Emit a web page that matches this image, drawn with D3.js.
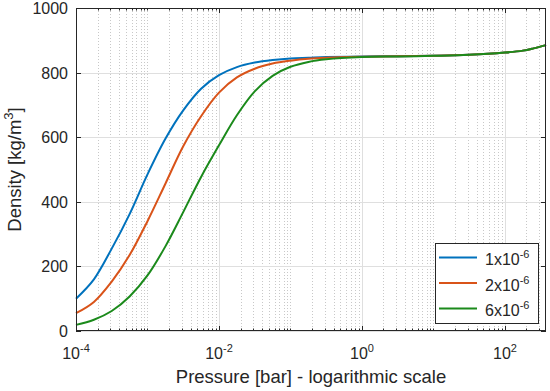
<!DOCTYPE html>
<html>
<head>
<meta charset="utf-8">
<script src="https://cdn.jsdelivr.net/npm/d3@7"></script>
<style>
  body { margin: 0; background: #fff; }
  text { font-family: "Liberation Sans", Arial, sans-serif; fill: #262626; }
</style>
</head>
<body>
<svg width="550" height="391"></svg>
<script>
// pressure samples (bar) and densities
const pressure = [1e-4, 1.78e-4, 3.16e-4, 5.62e-4, 1e-3, 1.78e-3, 3.16e-3, 5.62e-3,
    1e-2, 1.78e-2, 3.16e-2, 5.62e-2, 0.1, 0.178, 0.316, 1, 3.16, 10, 31.6, 100, 178, 251, 375];
const dens1 = [100, 160, 255, 362, 485, 595, 683, 750, 792, 817, 831, 839, 844, 846, 848,
    850, 851, 852, 855, 862, 868, 875, 885];
const dens2 = [55, 90, 153, 235, 340, 456, 572, 665, 738, 785, 812, 828, 837, 843, 846,
    849, 851, 852, 855, 862, 868, 875, 885];
const dens6 = [19, 35, 62, 107, 172, 262, 368, 477, 575, 668, 742, 790, 818, 833, 841,
    848, 850, 852, 855, 862, 868, 875, 885];
const seriesNames = ["1x10", "2x10", "6x10"];
const seriesExp = ["-6", "-6", "-6"];
const colors = ["#0072bd", "#d95319", "#1b8a1b"];
const yTicks = [0, 200, 400, 600, 800, 1000];
const xLabelTicks = [1e-4, 1e-2, 1, 100];
const xLabelExp = ["-4", "-2", "0", "2"];

const mL = 76, mR = 546, mT = 8, mB = 331;
const svg = d3.select("svg");

const x = d3.scaleLog().domain([1e-4, 375]).range([mL, mR]);
const y = d3.scaleLinear().domain([0, 1000]).range([mB, mT]);

// minor x positions: every k*10^n not labelled
let minor = [];
for (let n = -4; n <= 2; n++) {
    for (let k = 1; k <= 9; k++) {
        const v = k * Math.pow(10, n);
        if (v > 375) continue;
        if (xLabelTicks.some(t => Math.abs(t - v) / v < 1e-9)) continue;
        minor.push(v);
    }
}

const grid = svg.append("g");
grid.selectAll(".minx").data(minor).join("line")
    .attr("x1", d => Math.round(x(d)) + 0.5).attr("x2", d => Math.round(x(d)) + 0.5)
    .attr("y1", mT).attr("y2", mB)
    .attr("stroke", "#c8c8c8").attr("stroke-width", 1).attr("stroke-dasharray", "1,2");
grid.selectAll(".majx").data(xLabelTicks).join("line")
    .attr("x1", d => Math.round(x(d)) + 0.5).attr("x2", d => Math.round(x(d)) + 0.5)
    .attr("y1", mT).attr("y2", mB)
    .attr("stroke", "#dfdfdf").attr("stroke-width", 1);
grid.selectAll(".majy").data(yTicks).join("line")
    .attr("x1", mL).attr("x2", mR)
    .attr("y1", d => Math.round(y(d)) + 0.5).attr("y2", d => Math.round(y(d)) + 0.5)
    .attr("stroke", "#dfdfdf").attr("stroke-width", 1);

// curves
const line = d3.line()
    .x(d => x(d[0])).y(d => y(d[1]))
    .curve(d3.curveCatmullRom.alpha(0.5));
[dens1, dens2, dens6].forEach((s, i) => {
    svg.append("path")
        .datum(pressure.map((p, j) => [p, s[j]]))
        .attr("d", line)
        .attr("fill", "none")
        .attr("stroke", colors[i])
        .attr("stroke-width", 2);
});

// box and ticks
const ax = svg.append("g").attr("stroke", "#262626").attr("stroke-width", 1);
ax.append("rect").attr("x", mL + 0.5).attr("y", mT + 0.5)
    .attr("width", mR - mL - 1).attr("height", mB - mT - 1)
    .attr("fill", "none");
xLabelTicks.forEach(t => {
    const px = Math.round(x(t)) + 0.5;
    ax.append("line").attr("x1", px).attr("x2", px).attr("y1", mB).attr("y2", mB - 5);
    ax.append("line").attr("x1", px).attr("x2", px).attr("y1", mT).attr("y2", mT + 5);
});
minor.forEach(t => {
    const px = Math.round(x(t)) + 0.5;
    ax.append("line").attr("x1", px).attr("x2", px).attr("y1", mB).attr("y2", mB - 2.5);
    ax.append("line").attr("x1", px).attr("x2", px).attr("y1", mT).attr("y2", mT + 2.5);
});
yTicks.forEach(t => {
    const py = Math.round(y(t)) + 0.5;
    ax.append("line").attr("x1", mL).attr("x2", mL + 5).attr("y1", py).attr("y2", py);
    ax.append("line").attr("x1", mR).attr("x2", mR - 5).attr("y1", py).attr("y2", py);
});

// tick labels
svg.selectAll(".ylab").data(yTicks).join("text")
    .attr("x", mL - 8).attr("y", d => y(d) + 6)
    .attr("text-anchor", "end").attr("font-size", 16)
    .text(d => d);
xLabelTicks.forEach((t, i) => {
    const tx = svg.append("text").attr("x", x(t)).attr("y", 359)
        .attr("text-anchor", "middle").attr("font-size", 16);
    tx.append("tspan").text("10");
    tx.append("tspan").attr("dy", -7).attr("font-size", 11).text(xLabelExp[i]);
});

// axis titles
svg.append("text").attr("x", (mL + mR) / 2).attr("y", 383)
    .attr("text-anchor", "middle").attr("font-size", 18.5)
    .text("Pressure [bar] - logarithmic scale");
const yt = svg.append("text")
    .attr("transform", `translate(21,${(mT + mB) / 2}) rotate(-90)`)
    .attr("text-anchor", "middle").attr("font-size", 18.5);
yt.append("tspan").text("Density [kg/m");
yt.append("tspan").attr("dy", -8).attr("font-size", 13).text("3");
yt.append("tspan").attr("dy", 8).text("]");

// legend
const lg = svg.append("g");
lg.append("rect").attr("x", 435.5).attr("y", 243.5).attr("width", 103).attr("height", 80)
    .attr("fill", "#fff").attr("stroke", "#262626").attr("stroke-width", 1);
seriesNames.forEach((name, i) => {
    const ly = 257.5 + i * 25.5;
    lg.append("line").attr("x1", 439).attr("x2", 477).attr("y1", ly).attr("y2", ly)
        .attr("stroke", colors[i]).attr("stroke-width", 2);
    const t = lg.append("text").attr("x", 485).attr("y", ly + 7.5).attr("font-size", 16);
    t.append("tspan").text(name);
    t.append("tspan").attr("dy", -7).attr("font-size", 11).text(seriesExp[i]);
});
</script>
</body>
</html>
